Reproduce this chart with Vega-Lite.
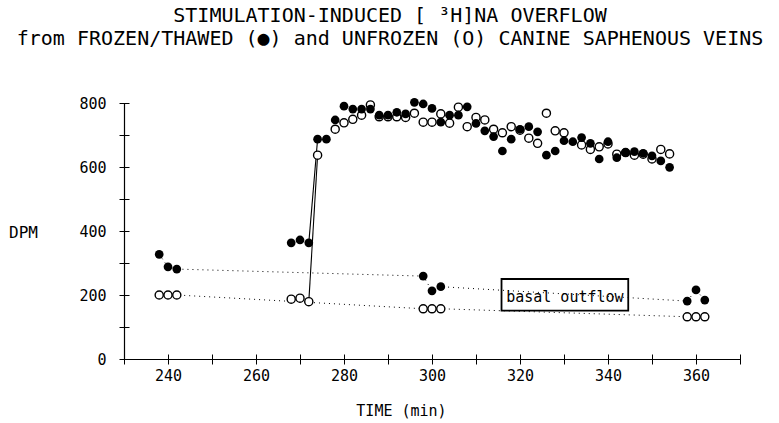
{
  "$schema": "https://vega.github.io/schema/vega-lite/v6.json",
  "width": 616,
  "height": 256,
  "autosize": "none",
  "padding": {"left": 124, "top": 103, "right": 39, "bottom": 64},
  "background": "white",
  "config": {
    "view": {"stroke": null},
    "font": "DejaVu Sans Mono",
    "axis": {"grid": false}
  },
  "title": {
    "text": ["STIMULATION-INDUCED [ ³H]NA OVERFLOW", "from FROZEN/THAWED (●) and UNFROZEN (O) CANINE SAPHENOUS VEINS"],
    "anchor": "middle",
    "frame": "group",
    "dx": -42,
    "offset": 47,
    "font": "DejaVu Sans Mono",
    "fontSize": 20,
    "fontWeight": "normal",
    "lineHeight": 23,
    "color": "black"
  },
  "datasets": {
    "pts": [
      {"t": 238, "dpm": 327, "group": "frozen", "phase": "basal"},
      {"t": 240, "dpm": 288, "group": "frozen", "phase": "basal"},
      {"t": 242, "dpm": 281, "group": "frozen", "phase": "basal"},
      {"t": 298, "dpm": 259, "group": "frozen", "phase": "basal"},
      {"t": 300, "dpm": 213, "group": "frozen", "phase": "basal"},
      {"t": 302, "dpm": 226, "group": "frozen", "phase": "basal"},
      {"t": 358, "dpm": 181, "group": "frozen", "phase": "basal"},
      {"t": 360, "dpm": 216, "group": "frozen", "phase": "basal"},
      {"t": 362, "dpm": 184, "group": "frozen", "phase": "basal"},
      {"t": 238, "dpm": 200, "group": "unfrozen", "phase": "basal"},
      {"t": 240, "dpm": 200, "group": "unfrozen", "phase": "basal"},
      {"t": 242, "dpm": 200, "group": "unfrozen", "phase": "basal"},
      {"t": 298, "dpm": 157, "group": "unfrozen", "phase": "basal"},
      {"t": 300, "dpm": 157, "group": "unfrozen", "phase": "basal"},
      {"t": 302, "dpm": 157, "group": "unfrozen", "phase": "basal"},
      {"t": 358, "dpm": 132, "group": "unfrozen", "phase": "basal"},
      {"t": 360, "dpm": 132, "group": "unfrozen", "phase": "basal"},
      {"t": 362, "dpm": 132, "group": "unfrozen", "phase": "basal"},
      {"t": 268, "dpm": 363, "group": "frozen", "phase": "stim"},
      {"t": 270, "dpm": 372, "group": "frozen", "phase": "stim"},
      {"t": 272, "dpm": 363, "group": "frozen", "phase": "stim"},
      {"t": 274, "dpm": 687, "group": "frozen", "phase": "stim"},
      {"t": 276, "dpm": 687, "group": "frozen", "phase": "stim"},
      {"t": 278, "dpm": 747, "group": "frozen", "phase": "stim"},
      {"t": 280, "dpm": 790, "group": "frozen", "phase": "stim"},
      {"t": 282, "dpm": 781, "group": "frozen", "phase": "stim"},
      {"t": 284, "dpm": 781, "group": "frozen", "phase": "stim"},
      {"t": 286, "dpm": 781, "group": "frozen", "phase": "stim"},
      {"t": 288, "dpm": 762, "group": "frozen", "phase": "stim"},
      {"t": 290, "dpm": 762, "group": "frozen", "phase": "stim"},
      {"t": 292, "dpm": 771, "group": "frozen", "phase": "stim"},
      {"t": 294, "dpm": 766, "group": "frozen", "phase": "stim"},
      {"t": 296, "dpm": 802, "group": "frozen", "phase": "stim"},
      {"t": 298, "dpm": 797, "group": "frozen", "phase": "stim"},
      {"t": 300, "dpm": 783, "group": "frozen", "phase": "stim"},
      {"t": 302, "dpm": 740, "group": "frozen", "phase": "stim"},
      {"t": 304, "dpm": 762, "group": "frozen", "phase": "stim"},
      {"t": 306, "dpm": 762, "group": "frozen", "phase": "stim"},
      {"t": 308, "dpm": 788, "group": "frozen", "phase": "stim"},
      {"t": 310, "dpm": 736, "group": "frozen", "phase": "stim"},
      {"t": 312, "dpm": 713, "group": "frozen", "phase": "stim"},
      {"t": 314, "dpm": 695, "group": "frozen", "phase": "stim"},
      {"t": 316, "dpm": 650, "group": "frozen", "phase": "stim"},
      {"t": 318, "dpm": 687, "group": "frozen", "phase": "stim"},
      {"t": 320, "dpm": 718, "group": "frozen", "phase": "stim"},
      {"t": 322, "dpm": 726, "group": "frozen", "phase": "stim"},
      {"t": 324, "dpm": 710, "group": "frozen", "phase": "stim"},
      {"t": 326, "dpm": 637, "group": "frozen", "phase": "stim"},
      {"t": 328, "dpm": 650, "group": "frozen", "phase": "stim"},
      {"t": 330, "dpm": 682, "group": "frozen", "phase": "stim"},
      {"t": 332, "dpm": 679, "group": "frozen", "phase": "stim"},
      {"t": 334, "dpm": 692, "group": "frozen", "phase": "stim"},
      {"t": 336, "dpm": 674, "group": "frozen", "phase": "stim"},
      {"t": 338, "dpm": 625, "group": "frozen", "phase": "stim"},
      {"t": 340, "dpm": 679, "group": "frozen", "phase": "stim"},
      {"t": 342, "dpm": 629, "group": "frozen", "phase": "stim"},
      {"t": 344, "dpm": 645, "group": "frozen", "phase": "stim"},
      {"t": 346, "dpm": 648, "group": "frozen", "phase": "stim"},
      {"t": 348, "dpm": 643, "group": "frozen", "phase": "stim"},
      {"t": 350, "dpm": 635, "group": "frozen", "phase": "stim"},
      {"t": 352, "dpm": 619, "group": "frozen", "phase": "stim"},
      {"t": 354, "dpm": 599, "group": "frozen", "phase": "stim"},
      {"t": 268, "dpm": 187, "group": "unfrozen", "phase": "stim"},
      {"t": 270, "dpm": 190, "group": "unfrozen", "phase": "stim"},
      {"t": 272, "dpm": 179, "group": "unfrozen", "phase": "stim"},
      {"t": 274, "dpm": 637, "group": "unfrozen", "phase": "stim"},
      {"t": 278, "dpm": 718, "group": "unfrozen", "phase": "stim"},
      {"t": 280, "dpm": 738, "group": "unfrozen", "phase": "stim"},
      {"t": 282, "dpm": 749, "group": "unfrozen", "phase": "stim"},
      {"t": 284, "dpm": 762, "group": "unfrozen", "phase": "stim"},
      {"t": 286, "dpm": 794, "group": "unfrozen", "phase": "stim"},
      {"t": 288, "dpm": 757, "group": "unfrozen", "phase": "stim"},
      {"t": 290, "dpm": 757, "group": "unfrozen", "phase": "stim"},
      {"t": 292, "dpm": 757, "group": "unfrozen", "phase": "stim"},
      {"t": 294, "dpm": 755, "group": "unfrozen", "phase": "stim"},
      {"t": 296, "dpm": 768, "group": "unfrozen", "phase": "stim"},
      {"t": 298, "dpm": 740, "group": "unfrozen", "phase": "stim"},
      {"t": 300, "dpm": 740, "group": "unfrozen", "phase": "stim"},
      {"t": 302, "dpm": 766, "group": "unfrozen", "phase": "stim"},
      {"t": 304, "dpm": 737, "group": "unfrozen", "phase": "stim"},
      {"t": 306, "dpm": 787, "group": "unfrozen", "phase": "stim"},
      {"t": 308, "dpm": 726, "group": "unfrozen", "phase": "stim"},
      {"t": 310, "dpm": 755, "group": "unfrozen", "phase": "stim"},
      {"t": 312, "dpm": 747, "group": "unfrozen", "phase": "stim"},
      {"t": 314, "dpm": 718, "group": "unfrozen", "phase": "stim"},
      {"t": 316, "dpm": 707, "group": "unfrozen", "phase": "stim"},
      {"t": 318, "dpm": 726, "group": "unfrozen", "phase": "stim"},
      {"t": 320, "dpm": 715, "group": "unfrozen", "phase": "stim"},
      {"t": 322, "dpm": 690, "group": "unfrozen", "phase": "stim"},
      {"t": 324, "dpm": 674, "group": "unfrozen", "phase": "stim"},
      {"t": 326, "dpm": 768, "group": "unfrozen", "phase": "stim"},
      {"t": 328, "dpm": 713, "group": "unfrozen", "phase": "stim"},
      {"t": 330, "dpm": 707, "group": "unfrozen", "phase": "stim"},
      {"t": 334, "dpm": 669, "group": "unfrozen", "phase": "stim"},
      {"t": 336, "dpm": 655, "group": "unfrozen", "phase": "stim"},
      {"t": 338, "dpm": 663, "group": "unfrozen", "phase": "stim"},
      {"t": 340, "dpm": 672, "group": "unfrozen", "phase": "stim"},
      {"t": 342, "dpm": 640, "group": "unfrozen", "phase": "stim"},
      {"t": 344, "dpm": 645, "group": "unfrozen", "phase": "stim"},
      {"t": 346, "dpm": 637, "group": "unfrozen", "phase": "stim"},
      {"t": 348, "dpm": 640, "group": "unfrozen", "phase": "stim"},
      {"t": 350, "dpm": 625, "group": "unfrozen", "phase": "stim"},
      {"t": 352, "dpm": 655, "group": "unfrozen", "phase": "stim"},
      {"t": 354, "dpm": 641, "group": "unfrozen", "phase": "stim"}
    ],
    "note": [
      {"t1": 315.8, "t2": 344.6, "d1": 151, "d2": 250, "tm": 330.2, "dm": 195, "label": "basal outflow"}
    ]
  },
  "resolve": {"axis": {"x": "independent", "y": "independent"}},
  "layer": [
    {
      "data": {"name": "pts"},
      "transform": [{"filter": "datum.phase == 'basal'"}],
      "mark": {"type": "line", "color": "black", "strokeWidth": 1, "strokeDash": [1, 4]},
      "encoding": {
        "x": {"field": "t", "type": "quantitative", "scale": {"domain": [230, 370], "nice": false, "zero": false}, "axis": null},
        "y": {"field": "dpm", "type": "quantitative", "scale": {"domain": [0, 800], "nice": false}, "axis": null},
        "detail": {"field": "group"},
        "order": {"field": "t"}
      }
    },
    {
      "data": {"name": "pts"},
      "transform": [{"filter": "datum.phase == 'stim' && datum.t >= 272 && datum.t <= 274"}],
      "mark": {"type": "line", "color": "black", "strokeWidth": 1.1},
      "encoding": {
        "x": {"field": "t", "type": "quantitative", "axis": null},
        "y": {"field": "dpm", "type": "quantitative", "axis": null},
        "detail": {"field": "group"},
        "order": {"field": "t"}
      }
    },
    {
      "data": {"name": "pts"},
      "transform": [{"filter": "datum.group == 'unfrozen'"}],
      "mark": {"type": "point", "shape": "circle", "filled": true, "fill": "white", "stroke": "black", "strokeWidth": 1.4, "size": 66, "opacity": 1},
      "encoding": {
        "x": {
          "field": "t", "type": "quantitative",
          "axis": {
            "orient": "bottom",
            "values": [230, 240, 250, 260, 270, 280, 290, 300, 310, 320, 330, 340, 350, 360, 370],
            "labelExpr": "(datum.value - 240) % 20 == 0 ? datum.label : ''",
            "ticks": false, "tickSize": 0,
            "domain": true, "domainColor": "black", "domainWidth": 1.2,
            "labelFont": "DejaVu Sans Mono", "labelFontSize": 15, "labelColor": "black", "labelPadding": 9,
            "title": "TIME (min)", "titleFont": "DejaVu Sans Mono", "titleFontSize": 15, "titleFontWeight": "normal", "titleColor": "black",
            "titleX": 277, "titleY": 44, "titleAlign": "center", "titleBaseline": "top"
          }
        },
        "y": {
          "field": "dpm", "type": "quantitative",
          "axis": {
            "orient": "left",
            "values": [0, 100, 200, 300, 400, 500, 600, 700, 800],
            "labelExpr": "datum.value % 200 == 0 ? datum.label : ''",
            "ticks": false, "tickSize": 0,
            "domain": true, "domainColor": "black", "domainWidth": 1.2,
            "labelFont": "DejaVu Sans Mono", "labelFontSize": 15, "labelColor": "black", "labelPadding": 18,
            "title": "DPM", "titleFont": "DejaVu Sans Mono", "titleFontSize": 16, "titleFontWeight": "normal", "titleColor": "black",
            "titleAngle": 0, "titleX": -101, "titleY": 129, "titleAlign": "center", "titleBaseline": "middle"
          }
        }
      }
    },
    {
      "data": {"name": "pts"},
      "transform": [{"filter": "datum.group == 'frozen'"}],
      "mark": {"type": "circle", "color": "black", "size": 76, "opacity": 1},
      "encoding": {
        "x": {
          "field": "t", "type": "quantitative",
          "axis": {
            "orient": "bottom", "offset": -5,
            "values": [230, 240, 250, 260, 270, 280, 290, 300, 310, 320, 330, 340, 350, 360, 370],
            "ticks": true, "tickSize": 10, "tickColor": "black", "tickWidth": 1,
            "domain": false, "labels": false, "title": null
          }
        },
        "y": {
          "field": "dpm", "type": "quantitative",
          "axis": {
            "orient": "left", "offset": -5,
            "values": [0, 100, 200, 300, 400, 500, 600, 700, 800],
            "ticks": true, "tickSize": 10, "tickColor": "black", "tickWidth": 1,
            "domain": false, "labels": false, "title": null
          }
        }
      }
    },
    {
      "data": {"name": "note"},
      "mark": {"type": "rect", "fill": null, "fillOpacity": 0, "stroke": "black", "strokeWidth": 1.8},
      "encoding": {
        "x": {"field": "t1", "type": "quantitative", "axis": null},
        "x2": {"field": "t2"},
        "y": {"field": "d1", "type": "quantitative", "axis": null},
        "y2": {"field": "d2"}
      }
    },
    {
      "data": {"name": "note"},
      "mark": {"type": "text", "font": "DejaVu Sans Mono", "fontSize": 15, "color": "black", "align": "center", "baseline": "middle"},
      "encoding": {
        "x": {"field": "tm", "type": "quantitative", "axis": null},
        "y": {"field": "dm", "type": "quantitative", "axis": null},
        "text": {"field": "label"}
      }
    }
  ]
}
